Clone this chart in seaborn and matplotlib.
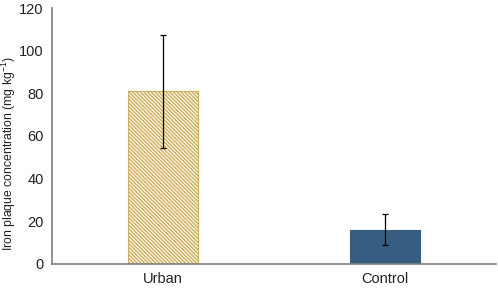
import matplotlib
matplotlib.use("Agg")
import matplotlib.pyplot as plt
import seaborn as sns
import pandas as pd

groups = ["Urban", "Control"]
means = [81, 16]
errors = [26.5, 7.3]
bar_colors = ["white", "#365c80"]
edge_colors = ["#d1b060", "#365c80"]

sns.set_theme(style="white")
plt.rcParams['font.family'] = ['Liberation Sans', 'DejaVu Sans']
plt.rcParams['hatch.linewidth'] = 1.1

df = pd.DataFrame({"group": groups, "value": means})

fig = plt.figure(figsize=(4.98, 2.90), dpi=100)
ax = fig.add_axes([0.1044, 0.0897, 0.8916, 0.8827])

sns.barplot(data=df, x="group", y="value", ax=ax, width=0.315,
            errorbar=None, color="white")

for patch, fc, ec, h in zip(ax.patches, bar_colors, edge_colors, ["\\" * 9, None]):
    patch.set_facecolor(fc)
    patch.set_edgecolor(ec)
    patch.set_linewidth(0.8)
    if h:
        patch.set_hatch(h)

ax.errorbar(x=range(len(groups)), y=means, yerr=errors, fmt="none",
            ecolor="black", elinewidth=0.9, capsize=2.5, capthick=0.9)

ax.set_ylim(0, 120)
ax.set_yticks([0, 20, 40, 60, 80, 100, 120])
ax.set_xlim(-0.5, 1.5)
ax.set_xlabel("")
ax.set_ylabel("Iron plaque concentration (mg kg$\\mathregular{^{-1}}$)", fontsize=8.8, color="#222222")
ax.yaxis.set_label_coords(-0.076, 0.43)
ax.tick_params(axis="both", labelsize=10.5, colors="#222222", length=0, pad=6)
for s in ["top", "right"]:
    ax.spines[s].set_visible(False)
for s in ["left", "bottom"]:
    ax.spines[s].set_color("#7f7f7f")
    ax.spines[s].set_linewidth(1.2)

fig.savefig("out.png", dpi=100)
